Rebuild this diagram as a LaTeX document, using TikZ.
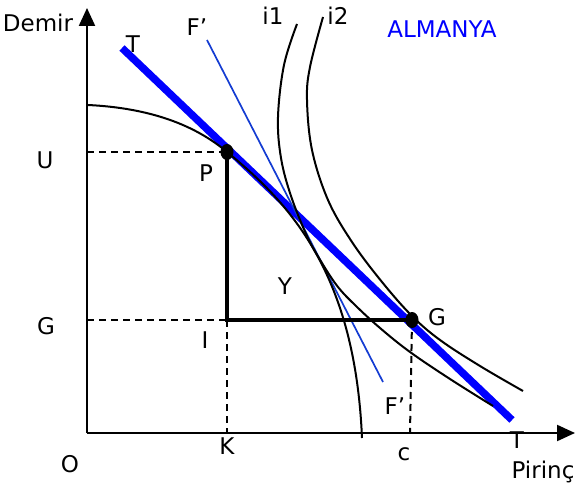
\documentclass[tikz,border=0pt]{standalone}
\usepackage{fontspec}
\setmainfont{DejaVu Sans}
\usetikzlibrary{arrows.meta}
\definecolor{fblue}{RGB}{20,60,210}
\tikzset{
  axis/.style={line width=2.2pt,-{Triangle[length=18pt,width=16pt]}},
  curve/.style={line width=2pt},
  guide/.style={line width=2pt,dash pattern=on 7pt off 5pt},
  box/.style={line width=4.5pt},
}
\begin{document}
\begin{tikzpicture}[x=1pt,y=-1pt,font=\fontsize{23}{27}\selectfont]
\useasboundingbox (0,0) rectangle (575,486);
% points
\coordinate (O) at (87,433);
\coordinate (ytop) at (87,8);
\coordinate (xend) at (575,433);
\coordinate (P) at (227,152);
\coordinate (I) at (227,320);
\coordinate (G) at (412,320);
\coordinate (U) at (87,152);
\coordinate (Gy) at (87,320);
\coordinate (K) at (227,433);
\coordinate (C) at (410,433);
\coordinate (T1) at (122,48);
\coordinate (T2) at (512,420);
\coordinate (F1) at (207,40);
\coordinate (F2) at (383,382);
% axes
\draw[axis] (O) -- (ytop);
\draw[axis] (O) -- (xend);
% price lines
\draw[blue,line width=7.5pt] (T1) -- (T2);
\draw[fblue,line width=1.7pt] (F1) -- (F2);
% production curve and i1, i2
\draw[curve] (88,105) .. controls (150,108) and (195,125) .. (P)
  .. controls (292,205) and (355,275) .. (362,438);
\draw[curve] plot[smooth,tension=0.6] coordinates {(297,24) (284,65) (278,117) (281,158) (291,196) (307,236) (322,263) (338,287) (356,306) (380,328) (410,352) (450,379) (493,406)};
\draw[curve] plot[smooth,tension=0.6] coordinates {(323,17) (310,67) (307,100) (312,150) (328,200) (352,242) (382,282) (412,316) (440,340) (480,366) (523,391)};
% dashed guides
\draw[guide] (U) -- (P);
\draw[guide] (Gy) -- (I);
\draw[guide] (I) -- (K);
\draw[guide] (G) -- (C);
\draw[box] (P) -- (I) -- (G);
\fill (P) ellipse [x radius=6.5, y radius=8];
\fill (G) ellipse [x radius=6.5, y radius=8];
% labels
\node (demir) at (38,23) {Demir};
\node (tU) at (133,44) {T};
\node (fU) at (197,27) {F’};
\node (ione) at (273,16) {i1};
\node (itwo) at (338,16) {i2};
\node[text=blue] (land) at (442,29) {ALMANYA};
\node (u) at (45,160) {U};
\node (p) at (206,173) {P};
\node (y) at (285,286) {Y};
\node (g) at (437,317) {G};
\node (gy) at (46,326) {G};
\node (i) at (205,340) {I};
\node (k) at (227,446) {K};
\node (o) at (70,464) {O};
\node (c) at (404,454) {c};
\node (fL) at (395,406) {F’};
\node (tL) at (517,440) {T};
\node[anchor=base] (pirinc) at (543,478) {Pirinç};
\end{tikzpicture}
\end{document}
